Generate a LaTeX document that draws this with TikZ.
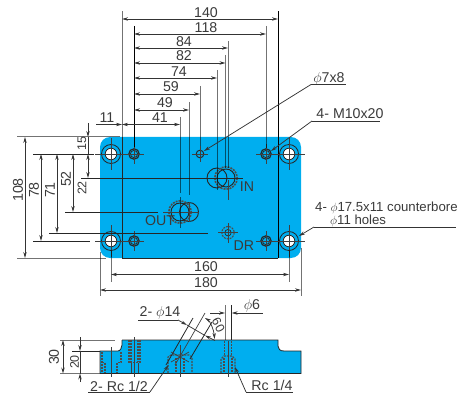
\documentclass[tikz,border=0pt]{standalone}
\usepackage{fontspec}
\setmainfont{Liberation Sans}
\usetikzlibrary{arrows.meta}
\definecolor{plate}{HTML}{00AEEF}
\definecolor{ink}{HTML}{3A3A3A}
\tikzset{
  dimline/.style={draw=ink!90!black,line width=0.75pt},
  tipboth/.style={dimline,{Stealth[length=6pt,width=3.4pt]}-{Stealth[length=6pt,width=3.4pt]}},
  tipend/.style={dimline,-{Stealth[length=6pt,width=3.4pt]}},
  extline/.style={draw=black,draw opacity=0.55,line width=1pt},
  darkline/.style={draw=black!85,line width=0.8pt},
  thinc/.style={draw=black!85,line width=0.7pt},
  lab/.style={text=ink,font=\fontsize{14.2}{15}\selectfont,inner sep=0pt},
  labw/.style={text=ink,font=\fontsize{13.2}{14}\selectfont,inner sep=0pt},
  labs/.style={text=ink,font=\fontsize{12.5}{13}\selectfont,inner sep=0pt},
  hid/.style={draw=black!70,line width=1.1pt,dash pattern=on 2pt off 1pt},
  cen/.style={draw=black!75,line width=0.7pt},
}
\begin{document}
\begin{tikzpicture}[x=1pt,y=-1pt]
\useasboundingbox (0,0) rectangle (464,396);
% plate
\fill[plate,rounded corners=10pt] (100,137) rectangle (301,258);
\draw[darkline] (122,258) -- (278,258);
\draw[extline] (17,137) -- (110,137);
\draw[extline] (17,258) -- (106,258);
\draw[extline] (110,137) -- (120,137);
\draw[darkline] (122,258) -- (122,137);
\draw[extline] (122,137) -- (122,11);
\draw[darkline,draw=black] (278,258) -- (278,11);
% counterbored holes
\foreach \hx/\hy in {111/154,289/154,111/241,289/241}{
  \fill[white] (\hx,\hy) circle (5.8);
  \draw[thinc,line width=0.8pt] (\hx,\hy) circle (5.8);
  \draw[thinc,line width=0.8pt] (\hx,\hy) circle (9.5);
  \draw[cen] (\hx-16,\hy) -- (\hx+16,\hy);
  \draw[cen] (\hx,\hy-16) -- (\hx,\hy+16);
}
% tapped holes
\foreach \hx/\hy in {134/154,266/154,134/241,266/241}{
  \draw[black!85,line width=1.2pt] (\hx,\hy) circle (5.2);
  \draw[thinc] (\hx,\hy) circle (3.6);
  \draw[cen] (\hx-10,\hy) -- (\hx+10,\hy);
  \draw[cen] (\hx,\hy-10) -- (\hx,\hy+10);
}
% 7 hole
\draw[thinc,line width=0.9pt] (200,154) circle (3.8);
\draw[cen] (192,154) -- (208,154);
\draw[cen] (200,146) -- (200,162);
% ports
\draw[thinc,line width=0.9pt] (217,178) circle (10);
\draw[hid,line width=1.6pt] (226,178) circle (11.2);
\draw[thinc,line width=0.9pt] (226,178) circle (9);
\draw[thinc,line width=0.9pt] (189,212) circle (9.5);
\draw[hid,line width=1.6pt] (180,212) circle (11.2);
\draw[thinc,line width=0.9pt] (180,212) circle (9);
\draw[cen] (163,212) -- (199,212);
\draw[extline] (180,197) -- (180,228);
\draw[cen] (189,202) -- (189,222);
\draw[cen] (228,180) -- (228,200);
\draw[hid,line width=1.1pt] (228,232.7) circle (6.2);
\draw[thinc] (228,232.7) circle (3.2);
\draw[cen] (218,232.7) -- (238,232.7);
\draw[cen] (228,223) -- (228,243);
% left dim extensions
\draw[darkline] (33,154) -- (94,154);
\draw[darkline] (33,241) -- (90,241);
\draw[darkline] (49,233) -- (208,233);
\draw[darkline] (65,212) -- (158,212);
\draw[darkline] (81,178) -- (243,178);
% vertical ext lines
\draw[darkline,draw=black] (134,26) -- (134,147);
\draw[extline] (266,26) -- (266,148);
\draw[extline] (228,41) -- (228,168);
\draw[extline] (225.5,55) -- (225.5,168);
\draw[extline] (217,70) -- (217,190);
\draw[extline] (200,86) -- (200,146);
\draw[extline] (189,102) -- (189,195);
\draw[extline] (180,117) -- (180,193);
% top dims
\draw[tipboth] (122,19) -- (278,19);
\draw[tipboth] (134,34) -- (266,34);
\draw[tipboth] (134,48) -- (228,48);
\draw[tipboth] (134,63) -- (225.5,63);
\draw[tipboth] (134,78) -- (217,78);
\draw[tipboth] (134,94) -- (200,94);
\draw[tipboth] (134,110) -- (189,110);
\draw[tipend] (96,124.5) -- (122,124.5);
\draw[tipboth] (122,124.5) -- (180,124.5);
\node[lab] (t140) at (206,13) {140};
\node[lab] (t118) at (206,28) {118};
\node[lab] (t84) at (184,42) {84};
\node[lab] (t82) at (184,56) {82};
\node[lab] (t74) at (179,72) {74};
\node[lab] (t59) at (171,87) {59};
\node[lab] (t49) at (165,103) {49};
\node[lab] (t41) at (160,118) {41};
\node[lab] (t11) at (107,118) {11};
% left dims
\draw[tipboth] (25,137) -- (25,258);
\draw[tipboth] (41,154) -- (41,241);
\draw[tipboth] (57,154) -- (57,233);
\draw[tipboth] (73,154) -- (73,212);
\draw[tipend] (88,123) -- (88,137);
\draw[tipboth] (88,154) -- (88,178);
\draw[dimline] (88,137) -- (88,154);
\node[lab,rotate=90] (t108) at (18,190) {108};
\node[lab,rotate=90] (t78) at (34,190) {78};
\node[lab,rotate=90] (t71) at (50,190) {71};
\node[lab,rotate=90] (t52) at (66,179) {52};
\node[labs,rotate=90] (t22) at (82,188) {22};
\node[labs,rotate=90] (t15) at (82,143.5) {15};
% bottom dims
\draw[extline] (111,250) -- (111,282);
\draw[extline] (289,250) -- (289,282);
\draw[extline] (100,252) -- (100,296);
\draw[extline] (301,248) -- (301,296);
\draw[tipboth] (111,274.5) -- (289,274.5);
\draw[tipboth] (100,290) -- (301,290);
\node[lab] (t160) at (206,267) {160};
\node[lab] (t180) at (206,283) {180};
% port labels
\node[lab] (tin) at (247,187) {IN};
\node[lab] (tdr) at (244,246) {DR};
\node[lab] (tout) at (160,221) {OUT};
% leaders
\node[lab,anchor=base] (t7) at (329,83) {$\phi$7x8};
\coordinate (l7) at (311,84.5);
\draw[dimline] (l7) -- (346,84.5);
\draw[tipend] (l7) -- (204,151);
\node[lab,anchor=base] (tm) at (350,119) {4- M10x20};
\coordinate (lm) at (312,121);
\draw[dimline] (lm) -- (380,121);
\draw[tipend] (lm) -- (271,151);
\node[labw,anchor=west] (tc) at (315,208) {4- $\phi$17.5x11 counterbore};
\node[labw,anchor=west] (th) at (330,221) {$\phi$11 holes};
\coordinate (lc) at (314,227);
\draw[dimline] (lc) -- (456,227);
\draw[tipend] (lc) -- (299,236);
% side view
\fill[plate] (100,373.5) -- (100,351) -- (118,351) .. controls (120,351) and (122,348) .. (122,345) -- (122,340) -- (278,340) -- (278,346) .. controls (278,349) and (280,351) .. (284,351) -- (301,351) -- (301,373.5) -- cycle;
\draw[darkline] (100,373.5) -- (301,373.5) -- (301,351) -- (284,351) .. controls (280,351) and (278,349) .. (278,346) -- (278,340) -- (122,340);
\draw[darkline] (100,373.5) -- (100,351) -- (118,351) .. controls (120,351) and (122,348) .. (122,345) -- (122,340);
\draw[extline] (60,340) -- (115,340);
\draw[extline] (60,373.5) -- (100,373.5);
\draw[darkline] (72,351) -- (100,351);
\draw[tipboth] (63,340) -- (63,373.5);
\draw[tipend] (80,337) -- (80,351);
\draw[tipend] (80,382) -- (80,373.5);
\draw[dimline] (80,351) -- (80,373.5);
\node[lab,rotate=90] (t30) at (54,357) {30};
\node[labs,rotate=90] (t20) at (74.5,362) {20};
% hidden left counterbore
\draw[hid] (102,352) -- (102,373);
\draw[hid] (121,352) -- (121,362.7) -- (117,362.7) -- (117,373);
\draw[hid] (102,362.7) -- (105,362.7) -- (105,373);
\draw[cen] (111,347) -- (111,377);
% hidden tapped
\draw[hid] (129,340) -- (129,362.7) -- (140,362.7) -- (140,340);
\draw[hid] (131,340) -- (131,362);
\draw[hid] (138,340) -- (138,362);
\draw[cen] (134.5,337) -- (134.5,377);
\draw[cen] (131,363) -- (131,373);
\draw[cen] (138,363) -- (138,373);
% Rc 1/2 port
\draw[hid] (168,373) -- (168,357) -- (171,355) -- (189,355) -- (192,357) -- (192,373);
\draw[hid] (176,358) -- (176,373);
\draw[hid] (184,358) -- (184,373);
\draw[cen] (180,345) -- (180,377);
\draw[cen] (205,313) -- (175,365);
\draw[darkline] (193,318) -- (166,365);
\draw[darkline] (212,322) -- (190,359);
\draw[cen] (171,352) -- (189,362);
\draw[cen] (189,352) -- (171,362);
% Rc 1/4 port
\draw[hid] (221,373) -- (221,359) -- (224,356) -- (232,356) -- (235,359) -- (235,373);
\draw[hid] (224.5,341) -- (224.5,356);
\draw[hid] (231.5,341) -- (231.5,356);
\draw[hid] (224,358) -- (224,373);
\draw[hid] (232,358) -- (232,373);
\draw[extline] (225,305) -- (225,340);
\draw[darkline] (231.7,305) -- (231.7,340);
\draw[cen] (228,341) -- (228,377);
% phi 14
\node[lab] (t14) at (160,313) {2- $\phi$14};
\coordinate (l14) at (178,320);
\draw[dimline] (138,320) -- (l14);
\draw[tipend] (l14) -- (187,325);
\draw[dimline,{Stealth[length=6pt,width=3.4pt]}-] (205,335.5) -- (215,340.5);
\draw[dimline] (187,325) -- (205,335.5);
% 60 angle
\draw[tipboth] (205,318) .. controls (210,321) and (214,330) .. (214.5,339);
\node[labs,rotate=-62] (t60) at (218.5,325) {60};
% phi 6
\coordinate (l6) at (240,313);
\draw[tipend] (210,313) -- (225,313);
\draw[tipend] (l6) -- (231.7,313);
\draw[dimline] (l6) -- (263,313);
\node[lab] (t6) at (252,305.5) {$\phi$6};
% Rc labels
\node[lab] (trh) at (119,386.5) {2- Rc 1/2};
\coordinate (lr) at (150,392);
\draw[dimline] (88,392) -- (lr);
\draw[tipend] (lr) -- (168.5,365);
\node[lab] (trq) at (272,385) {Rc 1/4};
\coordinate (lq) at (246,392);
\draw[dimline] (lq) -- (293,392);
\draw[tipend] (lq) -- (235,367);
\end{tikzpicture}
\end{document}
